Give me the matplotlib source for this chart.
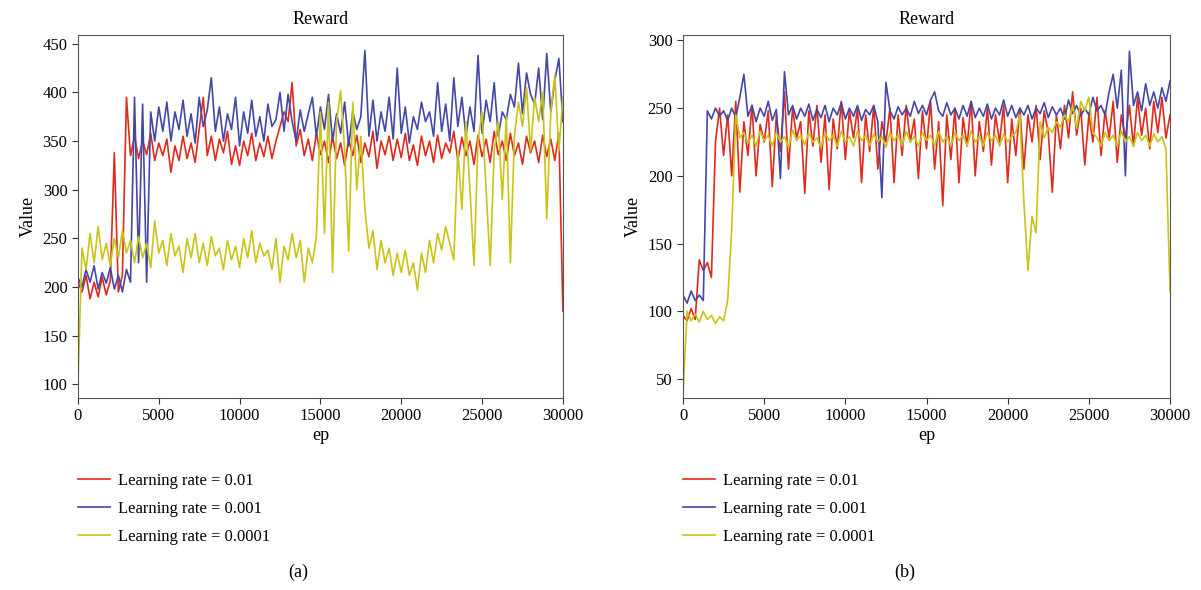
import numpy as np
import matplotlib
matplotlib.use("Agg")
import matplotlib.pyplot as plt

plt.rcParams['font.family'] = ['Liberation Serif', 'DejaVu Serif']

# episode grid: one reading every 250 episodes
ep = np.arange(0, 30001, 250)

labels = ['Learning rate = 0.01', 'Learning rate = 0.001', 'Learning rate = 0.0001']
colors = ['#e02a1c', '#4547a6', '#c9c418']

# panel (a)
a_lr_01 = [205, 195, 212, 188, 205, 190, 210, 192, 206, 338, 195, 212, 395, 335, 355, 332, 350, 336, 358, 330,
           348, 335, 352, 318, 345, 330, 355, 332, 348, 328, 362, 395, 335, 355, 330, 352, 338, 360, 326, 345,
           325, 350, 335, 358, 330, 348, 334, 355, 332, 350, 365, 380, 370, 410, 345, 362, 335, 352, 330, 358,
           336, 350, 328, 355, 332, 348, 325, 352, 335, 356, 328, 348, 334, 360, 322, 350, 336, 355, 330, 352,
           333, 358, 330, 346, 325, 355, 335, 350, 328, 356, 332, 348, 338, 360, 330, 354, 335, 350, 326, 356,
           334, 352, 328, 360, 336, 350, 330, 358, 335, 348, 326, 355, 338, 350, 328, 356, 334, 352, 330, 358,
           175]
a_lr_001 = [210, 200, 218, 205, 222, 198, 215, 204, 220, 198, 212, 195, 218, 205, 395, 225, 388, 205, 380, 350,
            385, 360, 390, 350, 380, 362, 392, 355, 378, 348, 395, 365, 382, 415, 360, 385, 350, 378, 362, 395,
            345, 380, 358, 392, 355, 375, 350, 388, 365, 372, 400, 360, 398, 370, 350, 382, 360, 378, 395, 355,
            385, 362, 398, 350, 378, 358, 390, 345, 380, 362, 375, 443, 355, 392, 350, 380, 360, 395, 352, 425,
            358, 385, 348, 375, 362, 390, 370, 380, 355, 410, 360, 388, 350, 415, 365, 395, 355, 385, 360, 438,
            358, 392, 370, 410, 355, 380, 372, 398, 385, 430, 378, 420, 398, 388, 425, 372, 440, 380, 412, 435,
            370]
a_lr_0001 = [100, 240, 218, 255, 225, 262, 228, 245, 222, 250, 230, 258, 235, 248, 225, 252, 230, 245, 220, 268,
             235, 248, 222, 255, 232, 242, 215, 250, 230, 255, 225, 245, 222, 252, 232, 240, 218, 248, 228, 242,
             220, 250, 230, 258, 225, 245, 232, 238, 218, 250, 205, 242, 228, 255, 230, 248, 205, 240, 225, 252,
             380, 255, 390, 215, 370, 402, 340, 237, 390, 300, 355, 280, 240, 258, 218, 248, 225, 240, 212, 235,
             215, 238, 212, 225, 197, 235, 215, 248, 225, 255, 238, 262, 245, 228, 340, 280, 370, 300, 222, 350,
             380, 300, 222, 340, 370, 290, 375, 225, 355, 390, 365, 405, 340, 395, 370, 400, 270, 380, 418, 340,
             395]

# panel (b)
b_lr_01 = [97, 93, 102, 94, 138, 130, 136, 125, 225, 250, 215, 245, 200, 255, 188, 240, 215, 252, 200, 238,
           225, 248, 192, 245, 218, 262, 205, 250, 228, 240, 187, 248, 222, 252, 210, 245, 190, 242, 220, 255,
           212, 248, 228, 250, 195, 245, 218, 252, 205, 240, 225, 250, 195, 245, 215, 252, 225, 242, 198, 248,
           220, 255, 205, 240, 178, 245, 212, 250, 195, 243, 222, 255, 200, 240, 218, 250, 208, 245, 225, 252,
           195, 242, 215, 250, 205, 245, 225, 252, 212, 248, 232, 188, 245, 220, 252, 228, 262, 230, 250, 208,
           245, 225, 258, 215, 248, 228, 255, 210, 245, 228, 252, 222, 258, 230, 250, 220, 255, 232, 258, 228,
           245]
b_lr_001 = [112, 106, 115, 108, 112, 108, 248, 242, 250, 244, 248, 241, 250, 243, 258, 275, 244, 252, 240, 250,
            244, 255, 241, 249, 198, 277, 245, 252, 242, 250, 244, 253, 241, 249, 243, 252, 240, 250, 245, 254,
            242, 250, 244, 252, 241, 249, 245, 252, 240, 184, 269, 248, 242, 251, 245, 250, 244, 255, 246, 252,
            245, 256, 262, 248, 244, 254, 245, 250, 242, 252, 244, 255, 243, 250, 244, 253, 242, 250, 245, 256,
            244, 252, 243, 250, 245, 252, 242, 250, 246, 254, 243, 251, 245, 250, 242, 256, 246, 252, 244, 250,
            245, 258, 248, 252, 245, 262, 275, 250, 278, 200, 292, 252, 262, 248, 268, 252, 262, 250, 265, 255,
            270]
b_lr_0001 = [40, 100, 93, 98, 92, 100, 94, 97, 91, 96, 93, 108, 160, 245, 228, 232, 224, 230, 222, 233,
             226, 230, 222, 232, 225, 229, 221, 234, 226, 230, 223, 232, 225, 228, 221, 232, 226, 230, 222, 233,
             225, 229, 222, 233, 226, 230, 222, 231, 225, 229, 221, 232, 226, 230, 222, 233, 225, 229, 222, 232,
             226, 230, 222, 233, 225, 229, 222, 232, 226, 230, 222, 233, 225, 229, 222, 232, 226, 230, 222, 231,
             225, 229, 232, 245, 180, 130, 170, 158, 240, 228, 236, 232, 240, 236, 245, 240, 252, 235, 255, 248,
             258, 232, 228, 222, 232, 226, 230, 222, 233, 225, 229, 222, 232, 226, 230, 222, 231, 225, 229, 220,
             115]

panels = [
    ([a_lr_01, a_lr_001, a_lr_0001], (86, 459), [100, 150, 200, 250, 300, 350, 400, 450], '(a)'),
    ([b_lr_01, b_lr_001, b_lr_0001], (36, 304), [50, 100, 150, 200, 250, 300], '(b)'),
]
rects = [[0.0649, 0.3254, 0.4038, 0.6153], [0.5687, 0.3254, 0.4055, 0.6153]]
tag_x = [298 / 1201, 905 / 1201]

fig = plt.figure(figsize=(12.01, 5.90), dpi=100)
for k, (series, ylim, yticks, tag) in enumerate(panels):
    ax = fig.add_axes(rects[k])
    for vals, lab, c in zip(series, labels, colors):
        ax.plot(ep, vals, color=c, lw=1.2, label=lab)
    ax.set_xlim(0, 30000)
    ax.set_ylim(*ylim)
    ax.set_xticks([0, 5000, 10000, 15000, 20000, 25000, 30000])
    ax.set_yticks(yticks)
    ax.tick_params(direction='out', length=4, labelsize=12, color='#333333')
    for s in ax.spines.values():
        s.set_color('#555555')
    ax.set_title('Reward', fontsize=13, pad=8)
    ax.set_xlabel('ep', fontsize=13, labelpad=2)
    ax.set_ylabel('Value', fontsize=13, labelpad=4)
    ax.legend(loc='upper left', bbox_to_anchor=(-0.03, -0.165), frameon=False, fontsize=12,
              handlelength=1.9, handletextpad=0.5, labelspacing=0.72)
    fig.text(tag_x[k], 1 - 572 / 590, tag, ha='center', va='center', fontsize=13)
fig.savefig('out.png', dpi=100)
